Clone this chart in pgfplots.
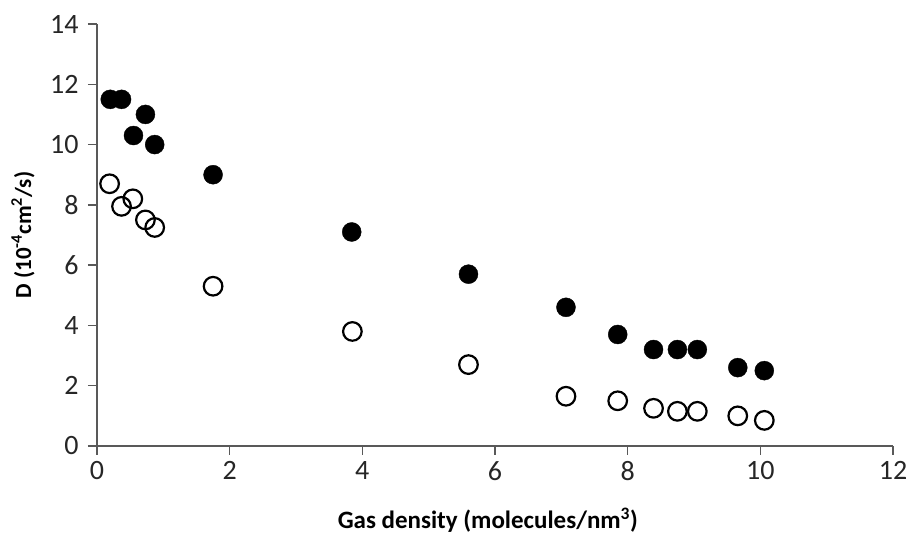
\documentclass[border=0pt]{standalone}
\usepackage{fontspec}
\setmainfont{Carlito}
\usepackage{pgfplots}
\usepackage{pgfplotstable}
\pgfplotsset{compat=1.18}
\definecolor{axisgray}{RGB}{89,89,89}

% Diffusion coefficient vs. gas density, two series
\pgfplotstableread{
x     y
0.20  11.5
0.37  11.5
0.55  10.3
0.73  11.0
0.87  10.0
1.75  9.0
3.84  7.1
5.60  5.7
7.07  4.6
7.85  3.7
8.39  3.2
8.75  3.2
9.05  3.2
9.66  2.6
10.06 2.5
}\filled

\pgfplotstableread{
x     y
0.19  8.7
0.37  7.95
0.54  8.2
0.73  7.5
0.87  7.25
1.75  5.3
3.85  3.8
5.60  2.7
7.07  1.65
7.85  1.5
8.39  1.25
8.75  1.15
9.05  1.15
9.66  1.0
10.06 0.85
}\open

\begin{document}
\begin{tikzpicture}
\begin{axis}[
  scale only axis, width=796pt, height=422pt,
  xmin=0, xmax=12, ymin=0, ymax=14,
  axis lines=left,
  axis line style={-, axisgray, line width=1.3pt},
  xtick={0,2,...,12}, ytick={0,2,...,14},
  tick align=outside, major tick length=9pt,
  tick style={axisgray, line width=1.3pt},
  /pgf/number format/assume math mode=true,
  ticklabel style={font=\fontsize{28}{32}\selectfont, color=black!85},
  yticklabel style={xshift=-6pt},
  xticklabel style={yshift=-3pt},
  xlabel={\textbf{Gas density (molecules/nm\textsuperscript{3})}},
  ylabel={\textbf{D (10\textsuperscript{-4}cm\textsuperscript{2}/s)}},
  xlabel style={font=\fontsize{25}{30}\selectfont, at={(axis description cs:0.491,-0.175)}, anchor=center},
  ylabel style={font=\fontsize{23}{28}\selectfont, at={(axis description cs:-0.093,0.5)}, anchor=center},
  clip=false,
]
\addplot[only marks, mark=*, mark size=9.5pt, mark options={fill=black, draw=black}] table {\filled};
\addplot[only marks, mark=o, mark size=9.3pt, mark options={draw=black, line width=2.2pt, fill=white}] table {\open};
\end{axis}
\pgfresetboundingbox
\path[use as bounding box] ([shift={(-97pt,-91pt)}]current axis.south west) rectangle ([shift={(18pt,24pt)}]current axis.north east);
\end{tikzpicture}
\end{document}
